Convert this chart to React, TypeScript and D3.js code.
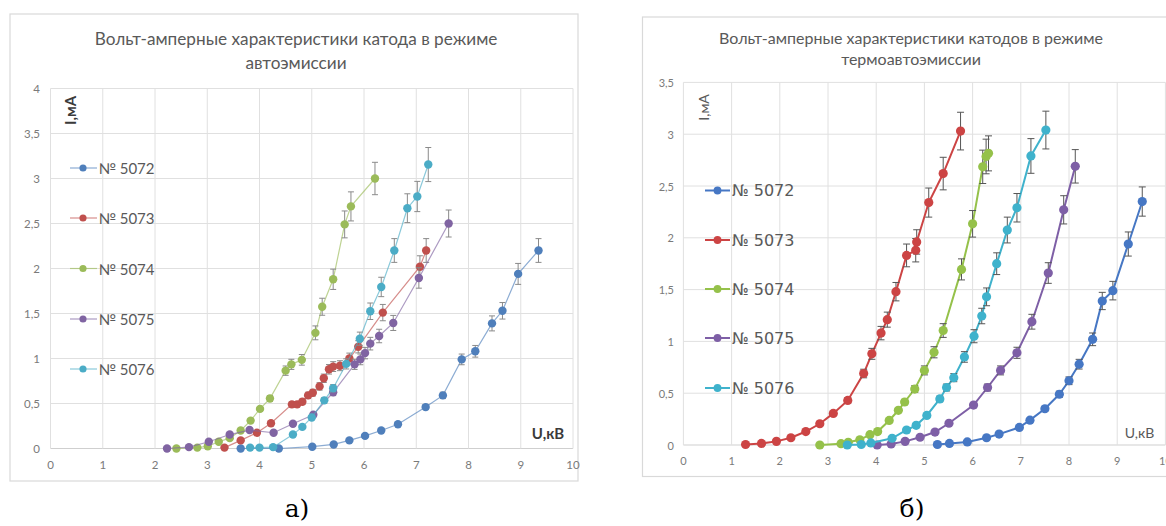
import React from 'react';
import * as d3 from 'd3';

// ---------- data ----------
const SERIES_NAMES = ['№ 5072', '№ 5073', '№ 5074', '№ 5075', '№ 5076'];
const X_TICKS = [0, 1, 2, 3, 4, 5, 6, 7, 8, 9, 10];
const A_Y_TICKS = [0, 0.5, 1, 1.5, 2, 2.5, 3, 3.5, 4];
const B_Y_TICKS = [0, 0.5, 1, 1.5, 2, 2.5, 3, 3.5];
const ERR_PCT = 0.06;

// chart а) — автоэмиссия
const A5072x = [3.64, 4.37, 5.01, 5.42, 5.72, 6.02, 6.33, 6.65, 7.18, 7.51, 7.87, 8.13, 8.45, 8.65, 8.95, 9.34];
const A5072y = [0, 0, 0.02, 0.045, 0.09, 0.14, 0.2, 0.27, 0.46, 0.59, 0.99, 1.08, 1.39, 1.53, 1.94, 2.2];
const A5073x = [3.33, 3.64, 3.95, 4.22, 4.62, 4.72, 4.82, 4.93, 5.02, 5.15, 5.23, 5.33, 5.41, 5.54, 5.72, 5.89, 6.36, 7.07, 7.19];
const A5073y = [0.01, 0.09, 0.175, 0.28, 0.49, 0.49, 0.52, 0.59, 0.62, 0.69, 0.78, 0.88, 0.91, 0.92, 1.0, 1.13, 1.51, 2.02, 2.2];
const A5074x = [2.41, 2.81, 3.01, 3.22, 3.43, 3.64, 3.83, 4.01, 4.2, 4.5, 4.61, 4.81, 5.07, 5.2, 5.41, 5.63, 5.75, 6.21];
const A5074y = [0, 0.01, 0.025, 0.075, 0.115, 0.2, 0.31, 0.44, 0.555, 0.865, 0.935, 0.985, 1.285, 1.575, 1.88, 2.49, 2.69, 3.0];
const A5075x = [2.23, 2.65, 3.03, 3.43, 3.81, 4.27, 4.64, 5.03, 5.41, 5.82, 5.93, 6.02, 6.12, 6.29, 6.56, 7.05, 7.62];
const A5075y = [0, 0.015, 0.075, 0.155, 0.205, 0.175, 0.275, 0.375, 0.625, 0.935, 0.99, 1.06, 1.165, 1.25, 1.395, 1.895, 2.5];
const A5076x = [3.82, 4.0, 4.26, 4.64, 4.82, 5.0, 5.24, 5.41, 5.66, 5.92, 6.12, 6.33, 6.58, 6.83, 7.02, 7.23];
const A5076y = [0.01, 0.01, 0.015, 0.155, 0.24, 0.345, 0.535, 0.67, 0.94, 1.22, 1.525, 1.795, 2.2, 2.67, 2.8, 3.155];

// chart б) — термоавтоэмиссия
const B5072x = [5.27, 5.52, 5.89, 6.29, 6.55, 6.97, 7.19, 7.5, 7.8, 8.0, 8.21, 8.49, 8.69, 8.91, 9.23, 9.52];
const B5072y = [0.005, 0.015, 0.03, 0.07, 0.105, 0.17, 0.24, 0.35, 0.49, 0.62, 0.78, 1.02, 1.39, 1.49, 1.94, 2.35];
const B5073x = [1.29, 1.62, 1.93, 2.23, 2.54, 2.83, 3.11, 3.41, 3.74, 3.91, 4.1, 4.23, 4.41, 4.63, 4.82, 4.84, 5.09, 5.39, 5.75];
const B5073y = [0.005, 0.015, 0.035, 0.07, 0.13, 0.205, 0.305, 0.43, 0.69, 0.88, 1.08, 1.21, 1.48, 1.83, 1.88, 1.96, 2.34, 2.62, 3.03];
const B5074x = [2.83, 3.27, 3.42, 3.66, 3.87, 4.03, 4.27, 4.46, 4.59, 4.8, 5.0, 5.2, 5.39, 5.77, 6.0, 6.21, 6.28, 6.33];
const B5074y = [0, 0.013, 0.026, 0.05, 0.1, 0.13, 0.237, 0.335, 0.415, 0.54, 0.72, 0.895, 1.105, 1.695, 2.135, 2.685, 2.785, 2.815];
const B5075x = [4.02, 4.31, 4.6, 4.91, 5.22, 5.51, 6.02, 6.31, 6.58, 6.92, 7.23, 7.57, 7.89, 8.13];
const B5075y = [0, 0.01, 0.035, 0.075, 0.125, 0.21, 0.385, 0.555, 0.72, 0.89, 1.19, 1.66, 2.27, 2.69];
const B5076x = [3.4, 3.69, 3.89, 4.33, 4.63, 4.83, 5.05, 5.32, 5.46, 5.61, 5.83, 6.03, 6.19, 6.29, 6.5, 6.72, 6.92, 7.21, 7.52];
const B5076y = [0, 0.005, 0.02, 0.065, 0.145, 0.19, 0.285, 0.445, 0.555, 0.65, 0.85, 1.05, 1.245, 1.43, 1.75, 2.075, 2.29, 2.79, 3.04];

const A_COLORS = ['#4f7fbb', '#c0504d', '#9bbb59', '#8064a2', '#4bacc6'];
const B_COLORS = ['#4677c4', '#cc4444', '#95c14a', '#7e5fa6', '#3fb2cc'];

type Pt = { x: number; y: number };
type Series = { name: string; color: string; pts: Pt[] };

const zip = (xs: number[], ys: number[]): Pt[] => xs.map((x, i) => ({ x, y: ys[i] }));

const A_SERIES: Series[] = [
  [A5072x, A5072y], [A5073x, A5073y], [A5074x, A5074y], [A5075x, A5075y], [A5076x, A5076y],
].map(([xs, ys], i) => ({ name: SERIES_NAMES[i], color: A_COLORS[i], pts: zip(xs, ys) }));

const B_SERIES: Series[] = [
  [B5072x, B5072y], [B5073x, B5073y], [B5074x, B5074y], [B5075x, B5075y], [B5076x, B5076y],
].map(([xs, ys], i) => ({ name: SERIES_NAMES[i], color: B_COLORS[i], pts: zip(xs, ys) }));

type Cfg = {
  frame: [number, number, number, number];
  px: [number, number];
  py: [number, number];
  yMax: number;
  yTicks: number[];
  series: Series[];
  title: string[];
  titleX: number;
  titleY: number[];
  titleSize: number;
  titleFont: string;
  legX: [number, number, number, number];
  legY: number[];
  legFont: string;
  legSize: number;
  legColor: string;
  yLab: { x: number; y: number; bold: boolean; size: number; color: string };
  xLab: { x: number; y: number; bold: boolean; size: number; color: string };
  tickFont: string;
  tickSize: number;
  yTickX: number;
  xTickY: number;
  lineW: number;
  lineOp: number;
  markerR: number;
  errColor: string;
  capHalf: number;
  caption: string;
  captionX: number;
};

function Chart({ c }: { c: Cfg }) {
  const x = d3.scaleLinear().domain([0, 10]).range(c.px);
  const y = d3.scaleLinear().domain([0, c.yMax]).range(c.py);
  const line = d3.line<Pt>().x((d) => x(d.x)).y((d) => y(d.y));
  const [fx, fy, fw, fh] = c.frame;
  return (
    <g>
      <rect x={fx} y={fy} width={fw} height={fh} fill="#fff" stroke="#d9d9d9" strokeWidth={1.2} />
      {c.title.map((t, i) => (
        <text key={i} x={c.titleX} y={c.titleY[i]} textAnchor="middle" dominantBaseline="central"
          fontFamily={c.titleFont} fontSize={c.titleSize} fill="#595959">{t}</text>
      ))}
      {/* grid */}
      {c.yTicks.map((t) => (
        <line key={'h' + t} x1={c.px[0]} x2={c.px[1]} y1={y(t)} y2={y(t)} stroke={t === 0 ? '#cfcfcf' : '#e0e0e0'} strokeWidth={1} />
      ))}
      {X_TICKS.map((t) => (
        <line key={'v' + t} x1={x(t)} x2={x(t)} y1={c.py[0]} y2={c.py[1]} stroke="#e0e0e0" strokeWidth={1} />
      ))}
      {c.yTicks.map((t) => (
        <text key={'yl' + t} x={c.yTickX} y={y(t)} textAnchor="end" dominantBaseline="central"
          fontFamily={c.tickFont} fontSize={c.tickSize} fill="#7a7a7a">{String(t).replace('.', ',')}</text>
      ))}
      {X_TICKS.map((t) => (
        <text key={'xl' + t} x={x(t)} y={c.xTickY} textAnchor="middle" dominantBaseline="central"
          fontFamily={c.tickFont} fontSize={c.tickSize} fill="#7a7a7a">{t}</text>
      ))}
      {/* axis titles */}
      <text transform={`translate(${c.yLab.x},${c.yLab.y}) rotate(-90)`} textAnchor="middle" dominantBaseline="central"
        fontFamily={c.titleFont} fontSize={c.yLab.size} fontWeight={c.yLab.bold ? 'bold' : 'normal'} fill={c.yLab.color}>I,мА</text>
      <text x={c.xLab.x} y={c.xLab.y} textAnchor="middle" dominantBaseline="central"
        fontFamily={c.titleFont} fontSize={c.xLab.size} fontWeight={c.xLab.bold ? 'bold' : 'normal'} fill={c.xLab.color}>U,кВ</text>
      {/* series */}
      {c.series.map((s) => (
        <g key={s.name}>
          <path d={line(s.pts) || ''} fill="none" stroke={s.color} strokeWidth={c.lineW} strokeOpacity={c.lineOp} />
          {s.pts.map((p, i) => {
            const e = p.y * ERR_PCT;
            if (y(p.y - e) - y(p.y + e) < 2) return null;
            const cx = x(p.x);
            return (
              <g key={'e' + i} stroke={c.errColor} strokeWidth={1}>
                <line x1={cx} x2={cx} y1={y(p.y - e)} y2={y(p.y + e)} />
                <line x1={cx - c.capHalf} x2={cx + c.capHalf} y1={y(p.y - e)} y2={y(p.y - e)} />
                <line x1={cx - c.capHalf} x2={cx + c.capHalf} y1={y(p.y + e)} y2={y(p.y + e)} />
              </g>
            );
          })}
          {s.pts.map((p, i) => (
            <circle key={'m' + i} cx={x(p.x)} cy={y(p.y)} r={c.markerR} fill={s.color} />
          ))}
        </g>
      ))}
      {/* legend */}
      {c.series.map((s, i) => (
        <g key={'lg' + i}>
          <line x1={c.legX[0]} x2={c.legX[1]} y1={c.legY[i]} y2={c.legY[i]} stroke={s.color} strokeWidth={c.lineW} strokeOpacity={c.lineOp} />
          <circle cx={c.legX[2]} cy={c.legY[i]} r={c.markerR * 0.85} fill={s.color} />
          <text x={c.legX[3]} y={c.legY[i]} dominantBaseline="central" fontFamily={c.legFont} fontSize={c.legSize} fill={c.legColor}>{s.name}</text>
        </g>
      ))}
      <text x={c.captionX} y={517} textAnchor="middle" fontFamily="'DejaVu Serif', 'Liberation Serif', serif" fontSize={25} fill="#000">{c.caption}</text>
    </g>
  );
}

const A_CFG: Cfg = {
  frame: [10, 14, 568, 467],
  px: [50.5, 573],
  py: [448.5, 88.5],
  yMax: 4,
  yTicks: A_Y_TICKS,
  series: A_SERIES,
  title: ['Вольт-амперные характеристики катода в режиме', 'автоэмиссии'],
  titleX: 296,
  titleY: [38.5, 62],
  titleSize: 17.2,
  titleFont: 'Lato, sans-serif',
  legX: [70, 97, 83, 98.5],
  legY: [168, 218, 268.5, 319, 369],
  legFont: 'Lato, sans-serif',
  legSize: 15,
  legColor: '#595959',
  yLab: { x: 69.5, y: 110.5, bold: true, size: 15, color: '#3a3a3a' },
  xLab: { x: 548, y: 432.5, bold: true, size: 15, color: '#3a3a3a' },
  tickFont: 'Lato, sans-serif',
  tickSize: 11.5,
  yTickX: 40,
  xTickY: 464,
  lineW: 1.2,
  lineOp: 0.65,
  markerR: 4.2,
  errColor: '#8a8a8a',
  capHalf: 3,
  caption: 'а)',
  captionX: 297,
};

const B_CFG: Cfg = {
  frame: [642.5, 17, 540, 459.5],
  px: [683.4, 1165.4],
  py: [445, 82.4],
  yMax: 3.5,
  yTicks: B_Y_TICKS,
  series: B_SERIES,
  title: ['Вольт-амперные характеристики катодов в режиме', 'термоавтоэмиссии'],
  titleX: 911,
  titleY: [37, 58.5],
  titleSize: 16,
  titleFont: 'Lato, sans-serif',
  legX: [705, 730, 717.5, 732],
  legY: [190.5, 240, 289, 338, 388],
  legFont: "'DejaVu Sans', sans-serif",
  legSize: 16,
  legColor: '#595959',
  yLab: { x: 703.5, y: 107.5, bold: false, size: 14, color: '#595959' },
  xLab: { x: 1139.5, y: 432, bold: false, size: 14, color: '#595959' },
  tickFont: 'Lato, sans-serif',
  tickSize: 11,
  yTickX: 674,
  xTickY: 460,
  lineW: 2,
  lineOp: 1,
  markerR: 4.6,
  errColor: '#555555',
  capHalf: 3.5,
  caption: 'б)',
  captionX: 912,
};

export default function App() {
  return (
    <svg width={1166} height={526} style={{ position: 'absolute', left: 0, top: 0, background: '#fff' }}>
      <rect x={0} y={0} width={1166} height={526} fill="#fff" />
      <Chart c={A_CFG} />
      <Chart c={B_CFG} />
    </svg>
  );
}
